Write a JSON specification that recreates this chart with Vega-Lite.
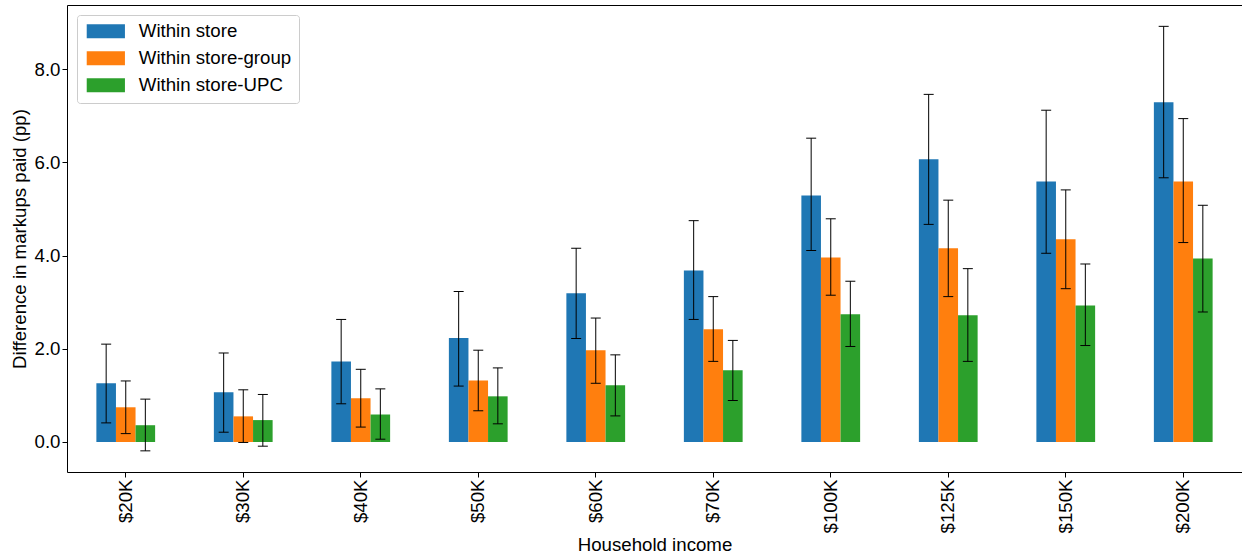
{
  "$schema": "https://vega.github.io/schema/vega-lite/v6.json",
  "width": 1175,
  "height": 467,
  "autosize": {"type": "none"},
  "padding": {"left": 67, "top": 5, "right": 0, "bottom": 86},
  "config": {
    "view": {"stroke": "#000", "strokeWidth": 1},
    "font": "Liberation Sans",
    "axis": {
      "domain": false,
      "grid": false,
      "tickColor": "#000",
      "tickSize": 5,
      "labelColor": "#000",
      "titleColor": "#000",
      "labelFontSize": 18.67,
      "titleFontSize": 18.67,
      "titleFontWeight": "normal"
    }
  },
  "data": {
    "values": [
      {"income": "$20K", "series": "Within store", "value": 1.26, "lo": 0.41, "hi": 2.10},
      {"income": "$20K", "series": "Within store-group", "value": 0.745, "lo": 0.18, "hi": 1.31},
      {"income": "$20K", "series": "Within store-UPC", "value": 0.36, "lo": -0.19, "hi": 0.92},
      {"income": "$30K", "series": "Within store", "value": 1.07, "lo": 0.21, "hi": 1.91},
      {"income": "$30K", "series": "Within store-group", "value": 0.55, "lo": -0.01, "hi": 1.12},
      {"income": "$30K", "series": "Within store-UPC", "value": 0.47, "lo": -0.09, "hi": 1.02},
      {"income": "$40K", "series": "Within store", "value": 1.73, "lo": 0.82, "hi": 2.63},
      {"income": "$40K", "series": "Within store-group", "value": 0.94, "lo": 0.32, "hi": 1.56},
      {"income": "$40K", "series": "Within store-UPC", "value": 0.59, "lo": 0.06, "hi": 1.14},
      {"income": "$50K", "series": "Within store", "value": 2.23, "lo": 1.20, "hi": 3.23},
      {"income": "$50K", "series": "Within store-group", "value": 1.32, "lo": 0.67, "hi": 1.97},
      {"income": "$50K", "series": "Within store-UPC", "value": 0.98, "lo": 0.39, "hi": 1.59},
      {"income": "$60K", "series": "Within store", "value": 3.19, "lo": 2.22, "hi": 4.16},
      {"income": "$60K", "series": "Within store-group", "value": 1.97, "lo": 1.26, "hi": 2.66},
      {"income": "$60K", "series": "Within store-UPC", "value": 1.22, "lo": 0.56, "hi": 1.87},
      {"income": "$70K", "series": "Within store", "value": 3.68, "lo": 2.63, "hi": 4.75},
      {"income": "$70K", "series": "Within store-group", "value": 2.42, "lo": 1.73, "hi": 3.12},
      {"income": "$70K", "series": "Within store-UPC", "value": 1.54, "lo": 0.89, "hi": 2.18},
      {"income": "$100K", "series": "Within store", "value": 5.29, "lo": 4.11, "hi": 6.52},
      {"income": "$100K", "series": "Within store-group", "value": 3.96, "lo": 3.15, "hi": 4.79},
      {"income": "$100K", "series": "Within store-UPC", "value": 2.74, "lo": 2.05, "hi": 3.45},
      {"income": "$125K", "series": "Within store", "value": 6.07, "lo": 4.67, "hi": 7.46},
      {"income": "$125K", "series": "Within store-group", "value": 4.16, "lo": 3.12, "hi": 5.19},
      {"income": "$125K", "series": "Within store-UPC", "value": 2.72, "lo": 1.73, "hi": 3.72},
      {"income": "$150K", "series": "Within store", "value": 5.59, "lo": 4.05, "hi": 7.12},
      {"income": "$150K", "series": "Within store-group", "value": 4.35, "lo": 3.29, "hi": 5.41},
      {"income": "$150K", "series": "Within store-UPC", "value": 2.93, "lo": 2.07, "hi": 3.82},
      {"income": "$200K", "series": "Within store", "value": 7.29, "lo": 5.67, "hi": 8.92},
      {"income": "$200K", "series": "Within store-group", "value": 5.59, "lo": 4.28, "hi": 6.94},
      {"income": "$200K", "series": "Within store-UPC", "value": 3.94, "lo": 2.79, "hi": 5.08}
    ]
  },
  "encoding": {
    "x": {
      "field": "income",
      "type": "nominal",
      "sort": ["$20K", "$30K", "$40K", "$50K", "$60K", "$70K", "$100K", "$125K", "$150K", "$200K"],
      "scale": {"paddingInner": 0.5, "paddingOuter": 0.25},
      "axis": {"title": "Household income", "labelAngle": -90, "labelAlign": "right", "labelBaseline": "middle", "labelPadding": 2, "titlePadding": 3}
    },
    "xOffset": {
      "field": "series",
      "type": "nominal",
      "sort": ["Within store", "Within store-group", "Within store-UPC"],
      "scale": {"paddingInner": 0, "paddingOuter": 0}
    }
  },
  "layer": [
    {
      "mark": {"type": "bar"},
      "encoding": {
        "y": {
          "field": "value",
          "type": "quantitative",
          "scale": {"domain": [-0.644, 9.378], "nice": false, "zero": false},
          "axis": {"title": "Difference in markups paid (pp)", "values": [0, 2, 4, 6, 8], "format": ".1f", "labelPadding": 2, "titlePadding": 5}
        },
        "color": {
          "field": "series",
          "type": "nominal",
          "sort": ["Within store", "Within store-group", "Within store-UPC"],
          "scale": {"range": ["#1f77b4", "#ff7f0e", "#2ca02c"]},
          "legend": {
            "orient": "none",
            "legendX": 10,
            "legendY": 10,
            "title": null,
            "symbolType": "M-2.73,-1H2.73V1H-2.73Z",
            "symbolSize": 196,
            "symbolOffset": 12.5,
            "symbolStrokeWidth": 0,
            "symbolOpacity": 1,
            "labelFontSize": 18.67,
            "labelColor": "#000",
            "labelOffset": 23.6,
            "padding": 7,
            "rowPadding": 7,
            "strokeColor": "#cccccc",
            "fillColor": "#ffffff",
            "cornerRadius": 3
          }
        }
      }
    },
    {
      "mark": {"type": "rule", "color": "#000", "strokeWidth": 1},
      "encoding": {
        "y": {"field": "lo", "type": "quantitative"},
        "y2": {"field": "hi"}
      }
    },
    {
      "mark": {"type": "tick", "color": "#000", "thickness": 1, "size": 10, "opacity": 1},
      "encoding": {"y": {"field": "lo", "type": "quantitative"}}
    },
    {
      "mark": {"type": "tick", "color": "#000", "thickness": 1, "size": 10, "opacity": 1},
      "encoding": {"y": {"field": "hi", "type": "quantitative"}}
    }
  ]
}
